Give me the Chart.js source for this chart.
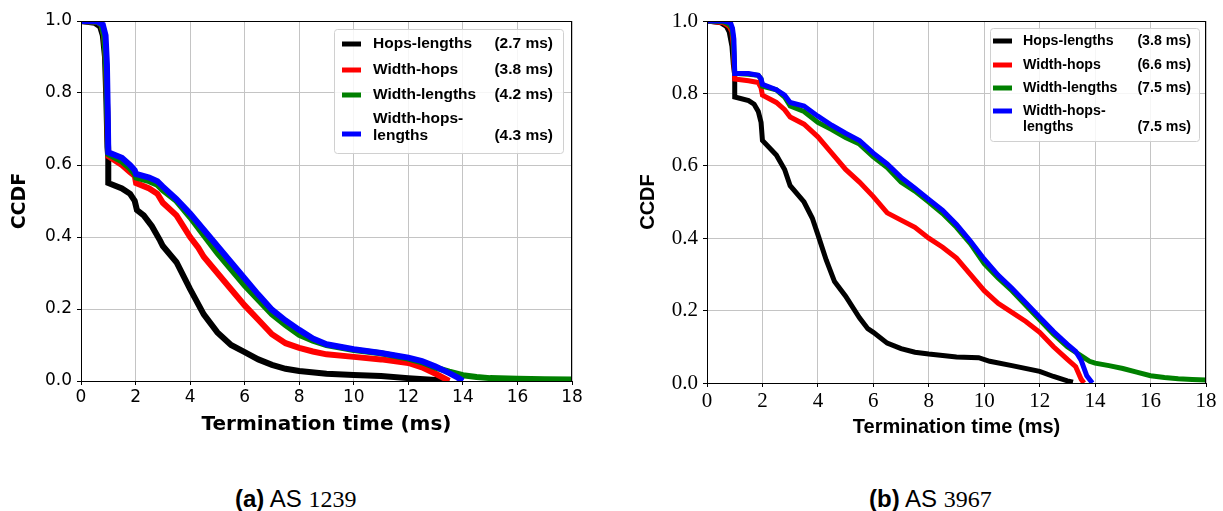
<!DOCTYPE html>
<html>
<head>
<meta charset="utf-8">
<script src="https://cdn.jsdelivr.net/npm/chart.js@4"></script>
<style>
  body { margin: 0; background: #fff; }
  #wrap { position: relative; width: 1223px; height: 511px; overflow: hidden; }
  #boxA { position: absolute; left: 0; top: 0; }
  #boxB { position: absolute; left: 620px; top: 0; }
  .cap { position: absolute; top: 485px; font-family: "Liberation Sans", Arial, sans-serif; font-size: 24px; color: #000; white-space: nowrap; line-height: 28px; }
  .cap b { font-weight: bold; }
  .cap .num { font-family: "Liberation Serif", serif; }
</style>
</head>
<body>
<div id="wrap">
  <div id="boxA"><canvas id="chartA" width="600" height="445"></canvas></div>
  <div id="boxB"><canvas id="chartB" width="603" height="445"></canvas></div>
  <div class="cap" style="left:235px"><b>(a)</b> AS <span class="num">1239</span></div>
  <div class="cap" style="left:869px"><b>(b)</b> AS <span class="num">3967</span></div>
</div>
<script>
// series names and colours (same for both panels)
const seriesNames = [["Hops-lengths"], ["Width-hops"], ["Width-lengths"], ["Width-hops-", "lengths"]];
const seriesColors = ["#000000", "#ff0000", "#008000", "#0000ff"];
const meanTimesA = ["(2.7 ms)", "(3.8 ms)", "(4.2 ms)", "(4.3 ms)"];
const meanTimesB = ["(3.8 ms)", "(6.6 ms)", "(7.5 ms)", "(7.5 ms)"];
const xTicks = [0, 2, 4, 6, 8, 10, 12, 14, 16, 18];
const yTicks = [0, 0.2, 0.4, 0.6, 0.8, 1.0];

// (a) AS 1239
const aHopsLenX = [0, 0.5, 0.7, 0.8, 0.88, 0.93, 0.97, 1.0, 1.0, 1.5, 1.8, 1.97, 2.05, 2.3, 2.6, 2.9, 3.0, 3.5, 4.0, 4.5, 5.0, 5.5, 6.0, 6.5, 7.0, 7.5, 8.0, 9.0, 10.0, 11.0, 12.0, 13.0, 13.5];
const aHopsLenY = [1.0, 0.995, 0.985, 0.96, 0.9, 0.78, 0.65, 0.62, 0.55, 0.535, 0.52, 0.5, 0.475, 0.46, 0.43, 0.39, 0.375, 0.33, 0.255, 0.185, 0.135, 0.1, 0.08, 0.06, 0.045, 0.034, 0.028, 0.02, 0.017, 0.014, 0.008, 0.003, 0];
const aWidthHopsX = [0, 0.6, 0.75, 0.85, 0.92, 0.97, 1.0, 1.5, 1.8, 1.97, 2.02, 2.5, 2.8, 3.0, 3.5, 4.0, 4.3, 4.5, 5.0, 5.5, 6.0, 6.5, 7.0, 7.5, 8.0, 8.5, 9.0, 10.0, 11.0, 12.0, 12.5, 13.0, 13.5];
const aWidthHopsY = [1.0, 0.998, 0.99, 0.96, 0.88, 0.72, 0.625, 0.6, 0.58, 0.57, 0.55, 0.535, 0.52, 0.495, 0.46, 0.4, 0.37, 0.345, 0.3, 0.255, 0.21, 0.17, 0.13, 0.105, 0.092, 0.082, 0.074, 0.067, 0.06, 0.05, 0.038, 0.02, 0];
const aWidthLenX = [0, 0.6, 0.75, 0.85, 0.92, 0.97, 1.0, 1.5, 1.8, 1.97, 2.02, 2.5, 2.8, 3.0, 3.5, 4.0, 4.5, 5.0, 5.5, 6.0, 6.5, 7.0, 7.5, 8.0, 8.5, 9.0, 10.0, 11.0, 12.0, 12.5, 13.0, 13.5, 14.0, 14.5, 15.0, 16.0, 17.0, 18.0];
const aWidthLenY = [1.0, 0.998, 0.99, 0.96, 0.88, 0.72, 0.63, 0.61, 0.59, 0.575, 0.565, 0.555, 0.545, 0.53, 0.5, 0.455, 0.405, 0.355, 0.31, 0.265, 0.225, 0.185, 0.155, 0.128, 0.112, 0.1, 0.086, 0.077, 0.062, 0.052, 0.037, 0.026, 0.016, 0.011, 0.008, 0.006, 0.005, 0.004];
const aAllX = [0, 0.6, 0.8, 0.9, 0.95, 0.98, 1.0, 1.5, 1.8, 1.97, 2.02, 2.5, 2.8, 3.0, 3.5, 4.0, 4.5, 5.0, 5.5, 6.0, 6.5, 7.0, 7.5, 8.0, 8.5, 9.0, 10.0, 11.0, 12.0, 12.5, 13.0, 13.5, 13.8, 14.0];
const aAllY = [1.0, 0.999, 0.99, 0.96, 0.88, 0.75, 0.635, 0.62, 0.6, 0.585, 0.575, 0.565, 0.555, 0.54, 0.505, 0.465, 0.42, 0.375, 0.33, 0.285, 0.24, 0.198, 0.168, 0.142, 0.118, 0.102, 0.088, 0.078, 0.065, 0.055, 0.04, 0.022, 0.01, 0];

// (b) AS 3967
const bHopsLenX = [0, 0.5, 0.7, 0.8, 0.9, 0.95, 1.0, 1.0, 1.5, 1.7, 1.85, 1.95, 2.0, 2.5, 2.8, 3.0, 3.5, 3.8, 4.0, 4.3, 4.6, 5.0, 5.5, 5.8, 6.0, 6.5, 7.0, 7.5, 8.0, 9.0, 9.8, 10.2, 11.0, 12.0, 12.5, 13.0, 13.2];
const bHopsLenY = [1.0, 0.995, 0.985, 0.97, 0.93, 0.88, 0.85, 0.79, 0.78, 0.77, 0.75, 0.72, 0.67, 0.63, 0.59, 0.545, 0.5, 0.455, 0.41, 0.34, 0.28, 0.24, 0.18, 0.15, 0.14, 0.11, 0.095, 0.085, 0.08, 0.072, 0.07, 0.06, 0.048, 0.032, 0.018, 0.006, 0.002];
const bWidthHopsX = [0, 0.6, 0.8, 0.9, 0.95, 1.0, 1.5, 1.85, 1.95, 2.0, 2.5, 2.8, 3.0, 3.5, 4.0, 4.5, 5.0, 5.5, 6.0, 6.5, 7.0, 7.5, 8.0, 8.5, 9.0, 9.5, 10.0, 10.5, 11.0, 11.5, 12.0, 12.5, 13.0, 13.3, 13.5, 13.6];
const bWidthHopsY = [1.0, 0.995, 0.985, 0.97, 0.93, 0.84, 0.835, 0.83, 0.815, 0.795, 0.775, 0.755, 0.735, 0.715, 0.68, 0.635, 0.59, 0.555, 0.515, 0.47, 0.45, 0.43, 0.4, 0.375, 0.345, 0.3, 0.255, 0.22, 0.195, 0.17, 0.14, 0.1, 0.065, 0.045, 0.01, 0];
const bWidthLenX = [0, 0.6, 0.8, 0.9, 0.95, 1.0, 1.5, 1.85, 1.95, 2.0, 2.5, 2.8, 3.0, 3.5, 4.0, 4.5, 5.0, 5.5, 6.0, 6.5, 7.0, 7.5, 8.0, 8.5, 9.0, 9.5, 10.0, 10.5, 11.0, 11.5, 12.0, 12.5, 13.0, 13.5, 13.8, 14.0, 14.5, 15.0, 15.5, 16.0, 16.5, 17.0, 17.5, 18.0];
const bWidthLenY = [1.0, 0.998, 0.99, 0.98, 0.95, 0.855, 0.853, 0.85, 0.84, 0.82, 0.81, 0.79, 0.765, 0.75, 0.72, 0.7, 0.678, 0.66, 0.625, 0.595, 0.555, 0.53, 0.5, 0.468, 0.43, 0.385, 0.33, 0.29, 0.255, 0.215, 0.175, 0.135, 0.1, 0.075, 0.06, 0.055, 0.048, 0.04, 0.03, 0.02, 0.015, 0.012, 0.01, 0.008];
const bAllX = [0, 0.6, 0.85, 0.92, 0.97, 1.0, 1.5, 1.85, 1.95, 2.0, 2.5, 2.8, 3.0, 3.5, 4.0, 4.5, 5.0, 5.5, 6.0, 6.5, 7.0, 7.5, 8.0, 8.5, 9.0, 9.5, 10.0, 10.5, 11.0, 11.5, 12.0, 12.5, 13.0, 13.3, 13.5, 13.7, 13.9];
const bAllY = [1.0, 1.0, 0.995, 0.98, 0.95, 0.855, 0.855, 0.85, 0.84, 0.825, 0.81, 0.795, 0.775, 0.765, 0.737, 0.712, 0.69, 0.67, 0.635, 0.605, 0.568, 0.538, 0.507, 0.477, 0.438, 0.392, 0.342, 0.298, 0.262, 0.222, 0.182, 0.142, 0.107, 0.087, 0.062, 0.02, 0];

function pairs(xs, ys) {
  return xs.map((x, i) => ({ x: x, y: ys[i] }));
}

function makeDatasets(series, lw) {
  return series.map((s, i) => ({
    label: seriesNames[i].join(""),
    data: pairs(s[0], s[1]),
    borderColor: seriesColors[i],
    backgroundColor: seriesColors[i],
    borderWidth: lw,
    pointRadius: 0,
    tension: 0,
    fill: false,
    clip: 0,
    order: 3 - i, // blue on top
  }));
}

// frame around plot + boxed legend with name / time columns
const framePlugin = {
  id: "frame",
  afterDatasetsDraw(chart) {
    const { ctx, chartArea: a } = chart;
    ctx.save();
    ctx.strokeStyle = "#000";
    ctx.lineWidth = 1;
    ctx.strokeRect(a.left + 0.5, a.top + 0.5, a.right - a.left - 1, a.bottom - a.top);
    ctx.restore();
  },
};

const legendPlugin = {
  id: "ccdfLegend",
  afterDraw(chart, args, o) {
    if (!o.times) return;
    const ctx = chart.ctx;
    ctx.save();
    ctx.fillStyle = "rgba(255,255,255,0.85)";
    ctx.strokeStyle = "#d0d0d0";
    ctx.lineWidth = 1;
    ctx.beginPath();
    ctx.roundRect(o.x + 0.5, o.y + 0.5, o.w, o.h, 3);
    ctx.fill();
    ctx.stroke();
    ctx.font = o.font;
    ctx.textBaseline = "middle";
    ctx.fillStyle = "#000";
    seriesNames.forEach((lines, i) => {
      const r = o.rows[i];
      ctx.strokeStyle = seriesColors[i];
      ctx.lineWidth = o.markH;
      ctx.beginPath();
      ctx.moveTo(o.markX, r.mark);
      ctx.lineTo(o.markX + o.markW, r.mark);
      ctx.stroke();
      ctx.textAlign = "left";
      lines.forEach((t, k) => ctx.fillText(t, o.textX, r.text[k]));
      ctx.textAlign = "right";
      ctx.fillText(o.times[i], o.valueX, r.value);
    });
    ctx.restore();
  },
};

function makeChart(id, series, cfg) {
  return new Chart(document.getElementById(id), {
    type: "line",
    data: { datasets: makeDatasets(series, cfg.lw) },
    plugins: [framePlugin, legendPlugin],
    options: {
      responsive: false,
      devicePixelRatio: 1,
      animation: false,
      layout: { padding: { left: 0, top: 21, right: cfg.padRight, bottom: 0 } },
      scales: {
        x: {
          type: "linear",
          min: 0,
          max: 18,
          afterFit: (s) => { s.height = cfg.xHeight; },
          afterBuildTicks: (s) => { s.ticks = xTicks.map((v) => ({ value: v })); },
          ticks: { color: "#000", padding: 2, font: cfg.tickFont, maxRotation: 0, callback: (v) => String(v) },
          grid: { color: "#c4c4c4", lineWidth: 1, tickLength: 4, tickColor: "#000" },
          border: { display: true, color: "#000" },
          title: { display: true, text: "Termination time (ms)", color: "#000", font: cfg.xTitleFont, padding: { top: 0, bottom: cfg.xTitlePad } },
        },
        y: {
          type: "linear",
          min: 0,
          max: 1,
          afterFit: (s) => { s.width = cfg.yWidth; },
          afterBuildTicks: (s) => { s.ticks = yTicks.map((v) => ({ value: v })); },
          ticks: { color: "#000", padding: 5, font: cfg.tickFont, callback: (v) => v.toFixed(1) },
          grid: { color: "#c4c4c4", lineWidth: 1, tickLength: 4, tickColor: "#000" },
          border: { display: true, color: "#000" },
          title: { display: true, text: "CCDF", color: "#000", font: cfg.yTitleFont, padding: { top: cfg.yTitlePad, bottom: 0 } },
        },
      },
      plugins: {
        legend: { display: false },
        tooltip: { enabled: false },
        ccdfLegend: cfg.legend,
      },
    },
  });
}

makeChart("chartA", [[aHopsLenX, aHopsLenY], [aWidthHopsX, aWidthHopsY], [aWidthLenX, aWidthLenY], [aAllX, aAllY]], {
  lw: 6,
  padRight: 28,
  xHeight: 64,
  yWidth: 81,
  tickFont: { family: "DejaVu Sans", size: 17 },
  xTitleFont: { family: "DejaVu Sans", size: 20, weight: "bold" },
  xTitlePad: 8,
  yTitleFont: { family: "DejaVu Sans", size: 19, weight: "bold" },
  yTitlePad: 9,
  legend: {
    times: meanTimesA,
    x: 334, y: 29, w: 229, h: 124,
    font: 'bold 15.5px "Liberation Sans"',
    markX: 342, markW: 19, markH: 5,
    textX: 373, valueX: 553,
    rows: [
      { mark: 44, text: [44], value: 44 },
      { mark: 70, text: [70], value: 70 },
      { mark: 95, text: [95], value: 95 },
      { mark: 134, text: [119, 136], value: 136 },
    ],
  },
});

// legend coords are relative to the right canvas (which starts at x=620)
makeChart("chartB", [[bHopsLenX, bHopsLenY], [bWidthHopsX, bWidthHopsY], [bWidthLenX, bWidthLenY], [bAllX, bAllY]], {
  lw: 5,
  padRight: 17,
  xHeight: 62,
  yWidth: 87,
  tickFont: { family: "Liberation Serif", size: 21 },
  xTitleFont: { family: "Liberation Sans", size: 20, weight: "bold" },
  xTitlePad: 6,
  yTitleFont: { family: "Liberation Sans", size: 20, weight: "bold" },
  yTitlePad: 16,
  legend: {
    times: meanTimesB,
    x: 370, y: 28, w: 209, h: 113,
    font: 'bold 14.2px "Liberation Sans"',
    markX: 373, markW: 19, markH: 5,
    textX: 403, valueX: 571,
    rows: [
      { mark: 41, text: [41], value: 41 },
      { mark: 65, text: [65], value: 65 },
      { mark: 88, text: [88], value: 88 },
      { mark: 111, text: [111, 127], value: 127 },
    ],
  },
});
</script>
</body>
</html>
